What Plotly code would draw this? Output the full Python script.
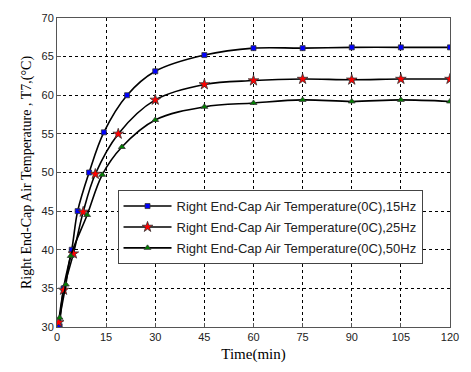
import plotly.graph_objects as go

# Sampling times (min) and temperatures (°C) for each frequency
t_15hz = [0.8, 2.0, 4.5, 6.3, 9.8, 14.3, 21.4, 30, 45, 60, 75, 90, 105, 120]
T_15hz = [30.1, 35.0, 40.0, 45.0, 50.0, 55.2, 60.0, 63.1, 65.2, 66.1, 66.1, 66.2, 66.2, 66.2]

t_25hz = [0.5, 2.0, 5.0, 8.0, 11.7, 18.7, 30, 45, 60, 75, 90, 105, 120]
T_25hz = [30.6, 34.8, 39.5, 44.9, 49.8, 55.0, 59.4, 61.4, 61.9, 62.1, 62.0, 62.1, 62.1]

t_50hz = [0.8, 2.7, 4.2, 9.2, 13.8, 19.8, 30, 45, 60, 75, 90, 105, 120]
T_50hz = [31.2, 35.5, 39.2, 44.5, 49.7, 53.3, 56.8, 58.5, 59.0, 59.4, 59.2, 59.4, 59.2]

x_ticks = [0, 15, 30, 45, 60, 75, 90, 105, 120]
y_ticks = [30, 35, 40, 45, 50, 55, 60, 65, 70]

series = [
    ("Right End-Cap Air Temperature(0C),15Hz", t_15hz, T_15hz, "square", "#0000ff", 5),
    ("Right End-Cap Air Temperature(0C),25Hz", t_25hz, T_25hz, "star", "#ff0000", 8),
    ("Right End-Cap Air Temperature(0C),50Hz", t_50hz, T_50hz, "triangle-up", "#008000", 6),
]

fig = go.Figure()
for i, (name, x, y, sym, col, size) in enumerate(series):
    fig.add_trace(go.Scatter(
        x=x, y=y, name=name, mode="lines+markers", legendgroup=f"g{i}",
        line=dict(color="black", width=1.6, shape="spline", smoothing=1.0),
        marker=dict(symbol=sym, size=size, color=col,
                    line=dict(color="#333333", width=0.8)),
    ))

grid_style = dict(showgrid=True, gridcolor="black", gridwidth=1, griddash="3px,3px",
                  showline=True, linecolor="#555555", linewidth=1, mirror=True,
                  ticks="inside", ticklen=4, tickcolor="#555555",
                  zeroline=False,
                  tickfont=dict(family="Arial, Liberation Sans", size=11, color="#222222"))

fig.update_xaxes(range=[0, 120], tickvals=x_ticks,
                 title=dict(text="Time(min)", standoff=6,
                            font=dict(family="Times New Roman, Liberation Serif", size=15, color="black")),
                 **grid_style)
fig.update_yaxes(range=[30, 70], tickvals=y_ticks,
                 title=dict(text="Right End-Cap Air Temperature , T7,(°C)", standoff=6,
                            font=dict(family="Times New Roman, Liberation Serif", size=14, color="black")),
                 **grid_style)

fig.update_layout(
    width=471, height=372,
    margin=dict(l=57, r=14, t=14, b=45),
    paper_bgcolor="white", plot_bgcolor="white",
    showlegend=True,
    legend=dict(x=0.154, y=0.443, xanchor="left", yanchor="top",
                bgcolor="white", bordercolor="#444444", borderwidth=1,
                font=dict(family="Arial, Liberation Sans", size=13, color="#222222"),
                tracegroupgap=1, itemwidth=48, entrywidth=305, entrywidthmode="pixels"),
)

fig.write_html("out.html")
